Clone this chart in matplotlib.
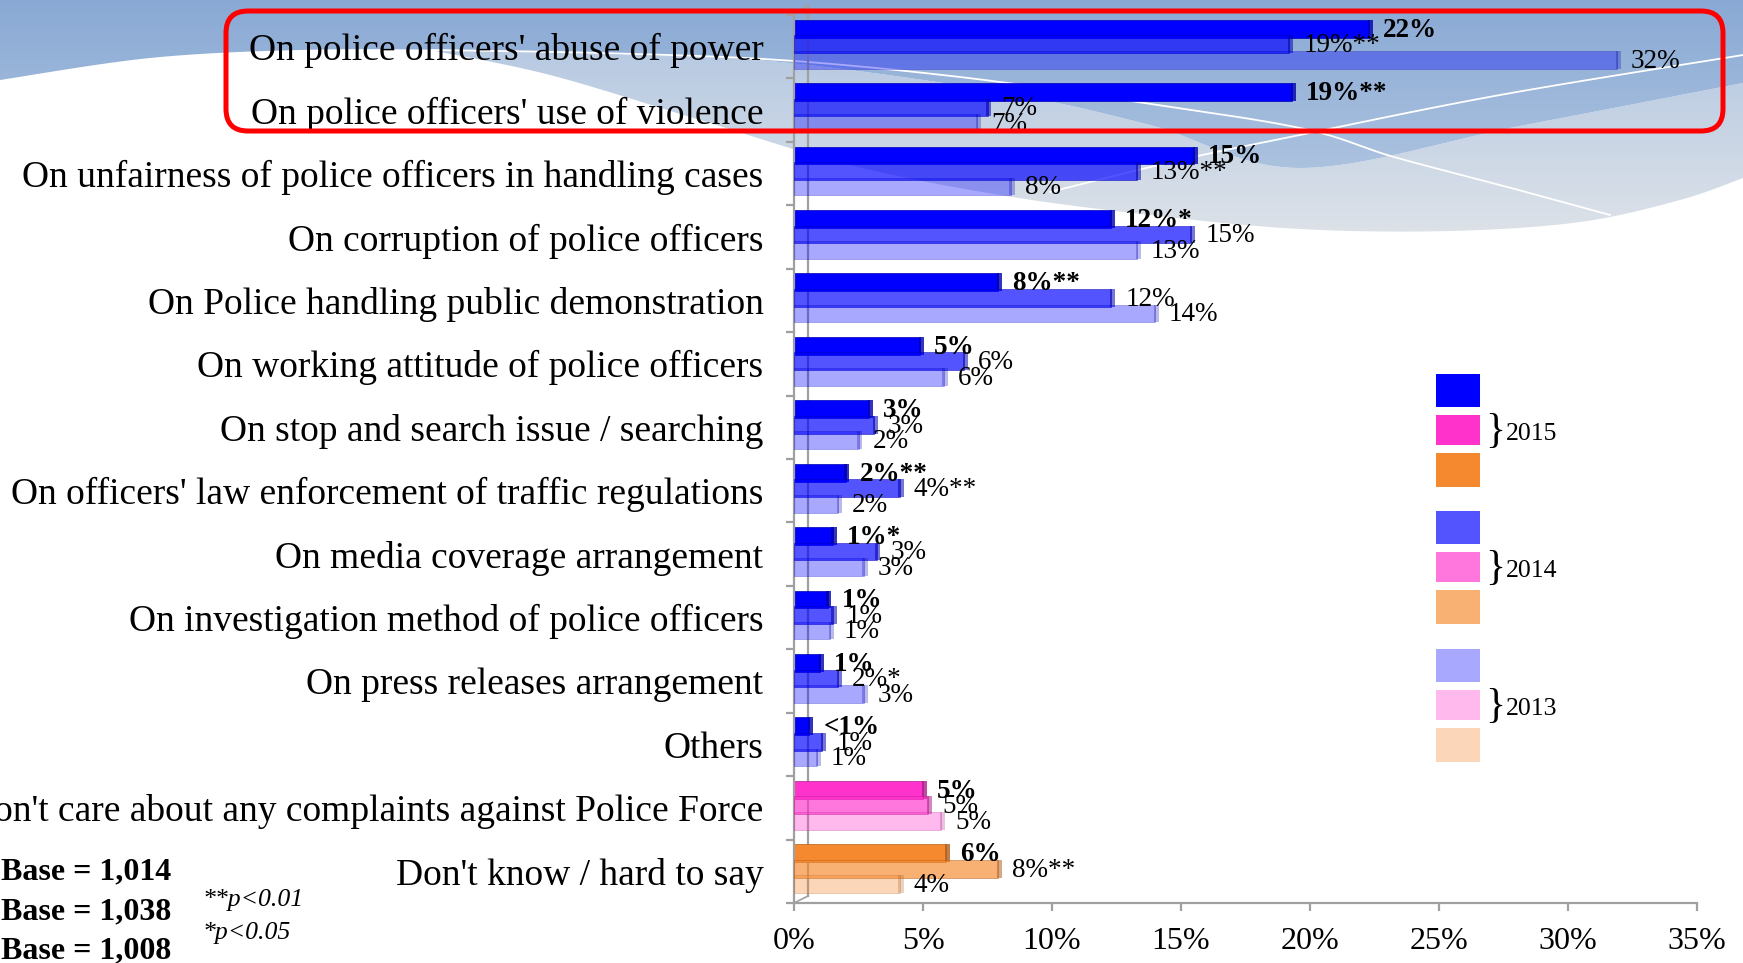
import numpy as np
import matplotlib
matplotlib.use('Agg')
import matplotlib.pyplot as plt
from matplotlib.patches import FancyBboxPatch, Rectangle, Polygon

plt.rcParams['font.family'] = ['Liberation Serif', 'DejaVu Serif']

# ---------------- data ----------------
categories = [
    "On police officers' abuse of power",
    "On police officers' use of violence",
    "On unfairness of police officers in handling cases",
    "On corruption of police officers",
    "On Police handling public demonstration",
    "On working attitude of police officers",
    "On stop and search issue / searching",
    "On officers' law enforcement of traffic regulations",
    "On media coverage arrangement",
    "On investigation method of police officers",
    "On press releases arrangement",
    "Others",
    "Don't care about any complaints against Police Force",
    "Don't know / hard to say",
]
v2015 = [22.3, 19.3, 15.5, 12.3, 7.9, 4.9, 2.9, 2.0, 1.5, 1.3, 1.0, 0.6, 5.0, 5.9]
v2014 = [19.2, 7.5, 13.3, 15.4, 12.3, 6.6, 3.1, 4.1, 3.2, 1.5, 1.7, 1.1, 5.2, 7.9]
v2013 = [31.9, 7.1, 8.4, 13.3, 14.0, 5.8, 2.5, 1.7, 2.7, 1.4, 2.7, 0.9, 5.7, 4.1]
lab2015 = ["22%", "19%**", "15%", "12%*", "8%**", "5%", "3%", "2%**", "1%*", "1%", "1%", "<1%", "5%", "6%"]
lab2014 = ["19%**", "7%", "13%**", "15%", "12%", "6%", "3%", "4%**", "3%", "1%", "2%*", "1%", "5%", "8%**"]
lab2013 = ["32%", "7%", "8%", "13%", "14%", "6%", "2%", "2%", "3%", "1%", "3%", "1%", "5%", "4%"]
years = ["2015", "2014", "2013"]
xtick_vals = [0, 5, 10, 15, 20, 25, 30, 35]
xtick_labels = ["0%", "5%", "10%", "15%", "20%", "25%", "30%", "35%"]
base_lines = ["Base = 1,014", "Base = 1,038", "Base = 1,008"]
sig_notes = ["**p<0.01", "*p<0.05"]

# ---------------- style ----------------
group_colors = ['#0000FF'] * 12 + ['#FF33CC', '#F5892F']
side_colors = ['#0000B0'] * 12 + ['#B01E8C', '#B05F1E']
legend_bases = ['#0000FF', '#FF33CC', '#F5892F']
year_alpha = [1.0, 0.67, 0.34]
year_offset = [-0.285, -0.04, 0.205]
bar_h = 0.28
axis_gray = '#A0A0A0'

W, H = 1743, 963
fig = plt.figure(figsize=(W / 100, H / 100), dpi=100)

# ---------------- background (pixel coordinates) ----------------
bg = fig.add_axes([0, 0, 1, 1], zorder=-5)
bg.set_xlim(0, W)
bg.set_ylim(H, 0)
bg.axis('off')


def smooth(pts, n=30):
    pts = np.asarray(pts, float)
    P = np.vstack([pts[0], pts, pts[-1]])
    out = []
    t = np.linspace(0, 1, n, endpoint=False)[:, None]
    for i in range(1, len(P) - 2):
        p0, p1, p2, p3 = P[i - 1], P[i], P[i + 1], P[i + 2]
        out.append(0.5 * ((2 * p1) + (-p0 + p2) * t + (2 * p0 - 5 * p1 + 4 * p2 - p3) * t ** 2
                          + (-p0 + 3 * p1 - 3 * p2 + p3) * t ** 3))
    out.append(P[-2][None])
    return np.vstack(out)


B = smooth([(0, 80), (150, 58), (300, 50), (450, 50), (620, 55), (780, 62), (1000, 92),
            (1150, 125), (1300, 168), (1520, 126), (1743, 83)])
C = smooth([(430, 50), (550, 75), (700, 120), (850, 165), (1000, 195), (1150, 215),
            (1300, 229), (1450, 231), (1580, 222), (1680, 200), (1743, 178)])

blue_poly = np.vstack([[(0, 0)], B, [(W, 0)]])
band_B = B[B[:, 0] >= 430]
band_poly = np.vstack([band_B, C[::-1]])


def grad_image(c_top, c_bot):
    ct = np.array(matplotlib.colors.to_rgb(c_top))
    cb = np.array(matplotlib.colors.to_rgb(c_bot))
    t = np.linspace(0, 1, 256)[:, None]
    return (ct[None, :] * (1 - t) + cb[None, :] * t)[:, None, :]


p_band = Polygon(band_poly, closed=True, facecolor='none', edgecolor='none')
bg.add_patch(p_band)
im2 = bg.imshow(grad_image('#B6C9E2', '#DDE2E8'), extent=(0, W, 235, 45),
                aspect='auto', zorder=1)
im2.set_clip_path(p_band)

p_blue = Polygon(blue_poly, closed=True, facecolor='none', edgecolor='none')
bg.add_patch(p_blue)
im1 = bg.imshow(grad_image('#89A9D4', '#AEC4E0'), extent=(0, W, 180, 0),
                aspect='auto', zorder=2)
im1.set_clip_path(p_blue)

L1 = smooth([(430, 50), (600, 53), (780, 60), (960, 77), (1124, 100), (1300, 128),
             (1394, 157), (1500, 185), (1610, 215)])
L2 = smooth([(1050, 192), (1180, 160), (1290, 137), (1500, 95), (1743, 55)])
bg.plot(L1[:, 0], L1[:, 1], color='white', lw=1.3, zorder=3)
bg.plot(L2[:, 0], L2[:, 1], color='white', lw=1.3, zorder=3)

# ---------------- main axes ----------------
ax = fig.add_axes([794 / W, (H - 903) / H, (1697 - 794) / W, (903 - 15) / H])
ax.set_facecolor('none')
n = len(categories)
y = np.arange(n)
ax.set_xlim(0, 35)
ax.set_ylim(n - 0.5, -0.5)

series = [(v2015, lab2015), (v2014, lab2014), (v2013, lab2013)]
for k, (vals, labs) in enumerate(series):
    yy = y + year_offset[k]
    ax.barh(yy, vals, height=bar_h, color=group_colors, alpha=year_alpha[k],
            edgecolor=side_colors, linewidth=0.5, zorder=2 + k)
    ax.barh(yy, [0.2] * n, left=np.array(vals) - 0.05, height=bar_h, color=side_colors,
            alpha=year_alpha[k] * 0.8, linewidth=0, zorder=2 + k)
    for i in range(n):
        ax.annotate(labs[i], xy=(vals[i], yy[i]), xytext=(10, -1), textcoords='offset points',
                    ha='left', va='center', fontsize=19.5,
                    fontweight='bold' if k == 0 else 'normal', color='black', zorder=10)

for s in ['top', 'right']:
    ax.spines[s].set_visible(False)
for s in ['left', 'bottom']:
    ax.spines[s].set_color(axis_gray)
    ax.spines[s].set_linewidth(1.6)

ax.set_yticks(y)
ax.set_yticklabels(categories, fontsize=27)
ax.tick_params(axis='y', which='major', length=0, pad=22)
ax.set_yticks(np.arange(-0.5, n, 1.0), minor=True)
ax.tick_params(axis='y', which='minor', length=6, width=1.6, color=axis_gray)
ax.set_xticks(xtick_vals)
ax.set_xticklabels(xtick_labels, fontsize=23)
ax.tick_params(axis='x', length=6, width=1.6, color=axis_gray, pad=11)

# 3D back wall lines (pixel coords)
bg.plot([808, 808], [5, 896], color=axis_gray, lw=1.6, zorder=4)
bg.plot([794, 808], [15, 5], color=axis_gray, lw=1.2, zorder=4)
bg.plot([794, 808], [903, 896], color=axis_gray, lw=1.2, zorder=4)

# ---------------- legend ----------------
group_tops = [374, 511, 649]
box_offsets = [0, 41, 79]
box_heights = [33, 30, 34]
for g, yr in enumerate(years):
    for j in range(3):
        bg.add_patch(Rectangle((1436, group_tops[g] + box_offsets[j]), 44, box_heights[j],
                               facecolor=legend_bases[j], alpha=year_alpha[g],
                               edgecolor='none', zorder=5))
    yc = group_tops[g] + 58
    bg.text(1485, yc, "}", fontsize=30, ha='left', va='center', zorder=6)
    bg.text(1506, yc + 2, yr, fontsize=18.5, ha='left', va='center', zorder=6)

# ---------------- notes ----------------
for i, t in enumerate(base_lines):
    bg.text(1, [872, 912, 951][i], t, fontsize=23, fontweight='bold', ha='left', va='center')
for i, t in enumerate(sig_notes):
    bg.text(203, [900, 933][i], t, fontsize=18.5, fontstyle='italic', ha='left', va='center')

# ---------------- red highlight ----------------
red = FancyBboxPatch((226, 11), 1497, 120, boxstyle='round,pad=0,rounding_size=22',
                     fill=False, edgecolor='#FF0000', linewidth=3.6,
                     transform=bg.transData, zorder=20)
fig.add_artist(red)

fig.savefig('out.png', dpi=100)
